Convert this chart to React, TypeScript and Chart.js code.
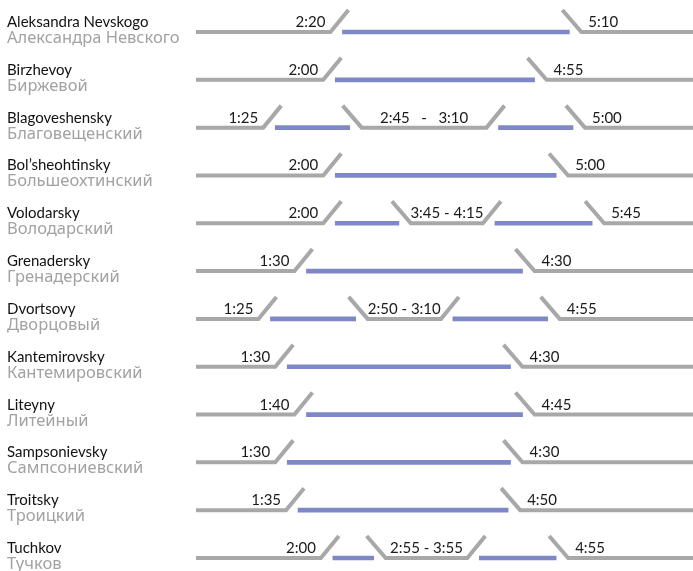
import React, { useEffect, useRef } from "react";
import { Chart, registerables } from "chart.js";

Chart.register(...registerables);

const bridgesEn = [
  "Aleksandra Nevskogo",
  "Birzhevoy",
  "Blagoveshensky",
  "Bol’sheohtinsky",
  "Volodarsky",
  "Grenadersky",
  "Dvortsovy",
  "Kantemirovsky",
  "Liteyny",
  "Sampsonievsky",
  "Troitsky",
  "Tuchkov",
];
const bridgesRu = [
  "Александра Невского",
  "Биржевой",
  "Благовещенский",
  "Большеохтинский",
  "Володарский",
  "Гренадерский",
  "Дворцовый",
  "Кантемировский",
  "Литейный",
  "Сампсониевский",
  "Троицкий",
  "Тучков",
];
// positions on the schematic time axis (minutes)
const firstOpenStart = [122, 116, 66, 116, 116, 92, 62, 76, 92, 76, 85, 114];
const firstOpenEnd = [311, 282, 128, 300, 169, 272, 133, 262, 272, 262, 260, 148];
const secondOpenStart = [null, null, 252, null, 249, null, 214, null, null, null, null, 236];
const secondOpenEnd = [null, null, 314, null, 330, null, 293, null, null, null, null, 300];
const raiseLabels = ["2:20", "2:00", "1:25", "2:00", "2:00", "1:30", "1:25", "1:30", "1:40", "1:30", "1:35", "2:00"];
const pauseLabels = [null, null, "2:45   -   3:10", null, "3:45 - 4:15", null, "2:50 - 3:10", null, null, null, null, "2:55 - 3:55"];
const lowerLabels = ["5:10", "4:55", "5:00", "5:00", "5:45", "4:30", "4:55", "4:30", "4:45", "4:30", "4:50", "4:55"];

const AXIS_MAX = 414;
const BLUE = "#7e88c7";
const GRAY = "#a8a8a8";

const UP_GAP = 12;
const SLANT_W = 18;
const SLANT_H = 22;
const DOWN_BEFORE = 7;
const DOWN_AFTER = 12;

function segmentsOf(i: number): [number, number][] {
  const out: [number, number][] = [[firstOpenStart[i], firstOpenEnd[i]]];
  if (secondOpenStart[i] != null && secondOpenEnd[i] != null) {
    out.push([secondOpenStart[i] as number, secondOpenEnd[i] as number]);
  }
  return out;
}

const trackPlugin = {
  id: "bridgeTrack",
  beforeDatasetsDraw(chart: any) {
    const { ctx, chartArea, scales } = chart;
    const x = scales.x;
    const y = scales.y;
    ctx.save();
    // names
    bridgesEn.forEach((name, i) => {
      const yy = y.getPixelForValue(i);
      ctx.textAlign = "left";
      ctx.textBaseline = "alphabetic";
      ctx.font = '15px Lato, "Noto Sans"';
      ctx.fillStyle = "#111111";
      ctx.fillText(name, 7, yy - 5);
      ctx.font = '16.5px "Noto Sans"';
      ctx.fillStyle = "#a2a2a2";
      ctx.fillText(bridgesRu[i], 7, yy + 11);
    });

    ctx.strokeStyle = GRAY;
    ctx.lineWidth = 4;
    ctx.lineJoin = "miter";
    ctx.lineCap = "butt";
    ctx.font = "15px Lato";
    ctx.fillStyle = "#1a1a1a";
    ctx.textBaseline = "alphabetic";

    bridgesEn.forEach((_, i) => {
      const yy = y.getPixelForValue(i);
      const segs = segmentsOf(i);
      let pts: [number, number][] = [[chartArea.left, yy]];
      segs.forEach(([s, e], k) => {
        const gEnd = x.getPixelForValue(s) - UP_GAP;
        pts.push([gEnd, yy], [gEnd + SLANT_W, yy - SLANT_H]);
        ctx.beginPath();
        pts.forEach(([px, py], j) => (j === 0 ? ctx.moveTo(px, py) : ctx.lineTo(px, py)));
        ctx.stroke();
        if (k === 0) {
          ctx.textAlign = "right";
          ctx.fillText(raiseLabels[i], gEnd - 5, yy - 5);
        } else {
          const startX = pts[1][0];
          ctx.textAlign = "center";
          ctx.fillText(pauseLabels[i] as string, (startX + gEnd) / 2, yy - 5);
        }
        const eP = x.getPixelForValue(e);
        pts = [
          [eP - DOWN_BEFORE, yy - SLANT_H],
          [eP + DOWN_AFTER, yy],
        ];
      });
      pts.push([chartArea.right, yy]);
      ctx.beginPath();
      pts.forEach(([px, py], j) => (j === 0 ? ctx.moveTo(px, py) : ctx.lineTo(px, py)));
      ctx.stroke();
      ctx.textAlign = "left";
      ctx.fillText(lowerLabels[i], pts[1][0] + 7, yy - 5);
    });
    ctx.restore();
  },
};

export default function App() {
  const ref = useRef<HTMLCanvasElement | null>(null);
  useEffect(() => {
    if (!ref.current) return;
    const chart = new Chart(ref.current, {
      type: "bar",
      data: {
        labels: bridgesEn,
        datasets: [
          {
            label: "open 1",
            data: bridgesEn.map((_, i) => [firstOpenStart[i], firstOpenEnd[i]]) as any,
            backgroundColor: BLUE,
            borderWidth: 0,
            barThickness: 4,
            grouped: false,
            clip: false,
          } as any,
          {
            label: "open 2",
            data: bridgesEn.map((_, i) =>
              secondOpenStart[i] != null ? [secondOpenStart[i], secondOpenEnd[i]] : null
            ) as any,
            backgroundColor: BLUE,
            borderWidth: 0,
            barThickness: 4,
            grouped: false,
            clip: false,
          } as any,
        ],
      },
      options: {
        indexAxis: "y",
        animation: false,
        responsive: false,
        maintainAspectRatio: false,
        layout: { padding: { left: 196, right: 0, top: 32, bottom: 13 } },
        scales: {
          x: { type: "linear", min: 0, max: AXIS_MAX, display: false },
          y: { type: "category", display: false, offset: false },
        },
        plugins: { legend: { display: false }, tooltip: { enabled: false } },
      },
      plugins: [trackPlugin],
    });
    return () => chart.destroy();
  }, []);
  return (
    <div style={{ position: "absolute", left: 0, top: 0, width: 693, height: 571, background: "#fff" }}>
      <canvas ref={ref} width={693} height={571} style={{ display: "block" }} />
    </div>
  );
}
